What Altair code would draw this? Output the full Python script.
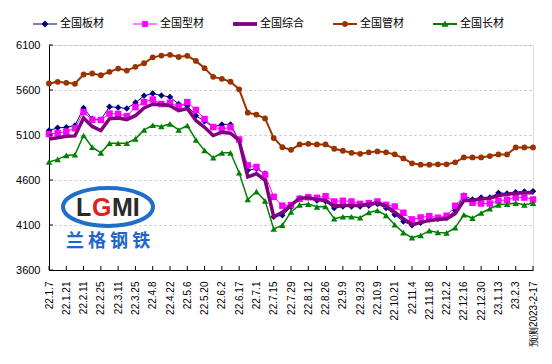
import altair as alt
import pandas as pd

dates = ["22.1.7", "22.1.14", "22.1.21", "22.1.28", "22.2.11", "22.2.18", "22.2.25", "22.3.4",
         "22.3.11", "22.3.18", "22.3.25", "22.4.1", "22.4.8", "22.4.15", "22.4.22", "22.4.29",
         "22.5.6", "22.5.13", "22.5.20", "22.5.27", "22.6.2", "22.6.10", "22.6.17", "22.6.24",
         "22.7.1", "22.7.8", "22.7.15", "22.7.22", "22.7.29", "22.8.5", "22.8.12", "22.8.19",
         "22.8.26", "22.9.2", "22.9.9", "22.9.16", "22.9.23", "22.9.30", "22.10.9", "22.10.14",
         "22.10.21", "22.10.28", "22.11.4", "22.11.11", "22.11.18", "22.11.25", "22.12.2", "22.12.9",
         "22.12.16", "22.12.23", "22.12.30", "23.1.6", "23.1.13", "23.1.20", "23.2.3", "23.2.10",
         "预测2023-2-17"]

plate = [5150, 5180, 5185, 5205, 5400, 5280, 5270, 5415, 5405, 5395, 5460, 5535, 5560, 5540, 5522,
         5444, 5426, 5315, 5253, 5190, 5218, 5218, 5035, 4707, 4726, 4671, 4192, 4207, 4300, 4398,
         4405, 4372, 4365, 4288, 4306, 4306, 4306, 4313, 4332, 4288, 4214, 4140, 4096, 4126, 4162,
         4170, 4177, 4262, 4428, 4383, 4405, 4405, 4457, 4450, 4464, 4472, 4475]
section = [5111, 5122, 5137, 5175, 5354, 5269, 5267, 5338, 5334, 5310, 5410, 5465, 5494, 5444, 5457,
           5415, 5465, 5378, 5277, 5188, 5166, 5185, 5050, 4763, 4744, 4660, 4413, 4315, 4322, 4391,
           4409, 4402, 4420, 4361, 4369, 4361, 4335, 4343, 4361, 4324, 4306, 4236, 4162, 4184, 4199,
           4181, 4203, 4313, 4420, 4347, 4339, 4339, 4369, 4380, 4405, 4405, 4383]
composite = [5055, 5070, 5085, 5090, 5290, 5195, 5150, 5280, 5288, 5270, 5315, 5400, 5442, 5440, 5425,
             5370, 5395, 5260, 5186, 5094, 5131, 5120, 5039, 4634, 4671, 4597, 4192, 4240, 4320, 4398,
             4402, 4383, 4372, 4310, 4317, 4317, 4317, 4332, 4347, 4310, 4243, 4170, 4103, 4126, 4151,
             4162, 4170, 4225, 4372, 4372, 4391, 4398, 4428, 4442, 4453, 4457, 4457]
pipe = [5672, 5691, 5680, 5669, 5772, 5783, 5764, 5802, 5838, 5816, 5857, 5897, 5963, 5982, 5991,
        5967, 5980, 5923, 5843, 5746, 5724, 5692, 5607, 5348, 5326, 5284, 5066, 4965, 4935, 4995,
        5002, 4995, 4995, 4947, 4925, 4902, 4891, 4907, 4918, 4907, 4885, 4840, 4785, 4770, 4770,
        4774, 4774, 4796, 4851, 4851, 4851, 4866, 4884, 4884, 4962, 4962, 4962]
long_ = [4800, 4829, 4873, 4880, 5094, 4965, 4902, 5009, 5009, 5009, 5057, 5156, 5208, 5194, 5223,
         5156, 5205, 5046, 4929, 4847, 4902, 4902, 4681, 4383, 4471, 4368, 4056, 4098, 4245, 4323,
         4332, 4302, 4306, 4170, 4192, 4192, 4181, 4239, 4261, 4206, 4103, 4015, 3960, 3985, 4037,
         4018, 4012, 4070, 4214, 4177, 4233, 4280, 4324, 4332, 4343, 4324, 4343]

names = ["全国板材", "全国型材", "全国综合", "全国管材", "全国长材"]
colors = ["#000080", "#FF00FF", "#800080", "#993300", "#008000"]
series_values = [plate, section, composite, pipe, long_]
y_ticks = [3600, 4100, 4600, 5100, 5600, 6100]

rows = []
for name, vals in zip(names, series_values):
    assert len(vals) == len(dates)
    for i, v in enumerate(vals):
        rows.append({"idx": i, "series": name, "value": v})
df = pd.DataFrame(rows)

W, H = 484, 225
label_expr = "[" + ",".join("'" + d + "'" for d in dates) + "][datum.value]"

x_scale = alt.Scale(domain=[0, len(dates) - 1], nice=False, zero=False)
y_scale = alt.Scale(domain=[3600, 6100], nice=False, zero=False)

x_axis = alt.Axis(values=list(range(0, len(dates), 2)), labelExpr=label_expr, labelAngle=270,
                  labelFont="Liberation Sans", labelFontSize=10, labelColor="#000000",
                  labelPadding=11, ticks=False, grid=False, domainColor="#000000",
                  labelOverlap=False, labelFlush=False, title=None)
y_axis = alt.Axis(values=y_ticks, format="d", labelFont="Liberation Sans", labelFontSize=11,
                  labelColor="#000000", labelPadding=9, ticks=False, grid=True,
                  gridColor="#c0c0c0", gridDash=[2, 3], gridWidth=1, domainColor="#000000",
                  title=None)

X = alt.X("idx:Q", scale=x_scale, axis=x_axis)
Y = alt.Y("value:Q", scale=y_scale, axis=y_axis)

base = alt.Chart(df)
layers = []

styles = {
    "全国板材": dict(width=1, shape="diamond", size=42),
    "全国型材": dict(width=1, shape="square", size=42),
    "全国综合": dict(width=3.5, shape=None, size=0),
    "全国管材": dict(width=2, shape="circle", size=34),
    "全国长材": dict(width=1.5, shape="triangle-up", size=42),
}

for name, col in zip(names, colors):
    st = styles[name]
    layers.append(base.mark_line(color=col, strokeWidth=st["width"]).encode(
        x=X, y=Y).transform_filter(alt.datum.series == name))
    if st["shape"]:
        layers.append(base.mark_point(shape=st["shape"], size=st["size"], filled=True,
                                      color=col, opacity=1).encode(
            x=X, y=Y).transform_filter(alt.datum.series == name))


def bar(h):
    return f"M-1,-{h}H1V{h}H-1Z"


legend_paths = [
    bar(0.045) + " M0,-0.3L0.3,0L0,0.3L-0.3,0Z",
    bar(0.045) + " M-0.24,-0.24H0.24V0.24H-0.24Z",
    bar(0.16),
    bar(0.08) + " M-0.25,0A0.25,0.25 0 1,1 0.25,0A0.25,0.25 0 1,1 -0.25,0Z",
    bar(0.08) + " M0,-0.3L0.3,0.22L-0.3,0.22Z",
]

leg = alt.Legend(orient="none", legendX=-16, legendY=-33, direction="horizontal", columns=5,
                 columnPadding=29, labelOffset=3, symbolSize=576, symbolStrokeWidth=0,
                 symbolOpacity=1, labelFont="Noto Sans CJK SC", labelFontSize=11,
                 labelColor="#000000", title=None, padding=0, labelLimit=0)
layers.append(base.mark_point(filled=True, opacity=1).encode(
    x=X, y=Y,
    fill=alt.Fill("series:N", scale=alt.Scale(domain=names, range=colors), legend=leg),
    shape=alt.Shape("series:N", scale=alt.Scale(domain=names, range=legend_paths), legend=leg),
).transform_filter("false"))

# inward tick marks
xt = pd.DataFrame({"idx": list(range(0, len(dates), 2))})
layers.append(alt.Chart(xt).mark_rule(color="#000000", strokeWidth=1).encode(
    x=X, y=alt.value(H), y2=alt.value(H - 4)))
yt = pd.DataFrame({"value": y_ticks})
layers.append(alt.Chart(yt).mark_rule(color="#000000", strokeWidth=1).encode(
    y=Y, x=alt.value(0), x2=alt.value(4)))

# logo (decoration)
ellipse = "M-1,0A1,0.42 0 1,1 1,0A1,0.42 0 1,1 -1,0Z"
layers.append(alt.Chart(pd.DataFrame({"a": [0]})).mark_point(
    shape=ellipse, size=8100, filled=False, stroke="#1f6fc8", strokeWidth=4, opacity=1
).encode(x=alt.value(59), y=alt.value(162)))
for txt, xx, colr in [("L", 27, "#2a2a2a"), ("G", 43, "#e02020"), ("MI", 63, "#2a2a2a")]:
    layers.append(alt.Chart(pd.DataFrame({"a": [0]})).mark_text(
        text=txt, align="left", baseline="alphabetic", font="Liberation Sans", fontSize=25,
        fontWeight="bold", color=colr
    ).encode(x=alt.value(xx), y=alt.value(171)))
layers.append(alt.Chart(pd.DataFrame({"a": [0]})).mark_text(
    text="兰 格 钢 铁", align="center", baseline="alphabetic", font="Noto Sans CJK SC",
    fontSize=18, fontWeight="bold", color="#1e66cc"
).encode(x=alt.value(59), y=alt.value(202)))

chart = alt.layer(*layers).properties(
    width=W, height=H,
    autosize=alt.AutoSizeParams(type="none"),
    padding={"left": 41, "top": 37, "right": 11, "bottom": 80},
).configure_view(stroke=None).configure(background="#ffffff")

chart.save("out.html", embed_options={"renderer": "svg", "actions": False})
